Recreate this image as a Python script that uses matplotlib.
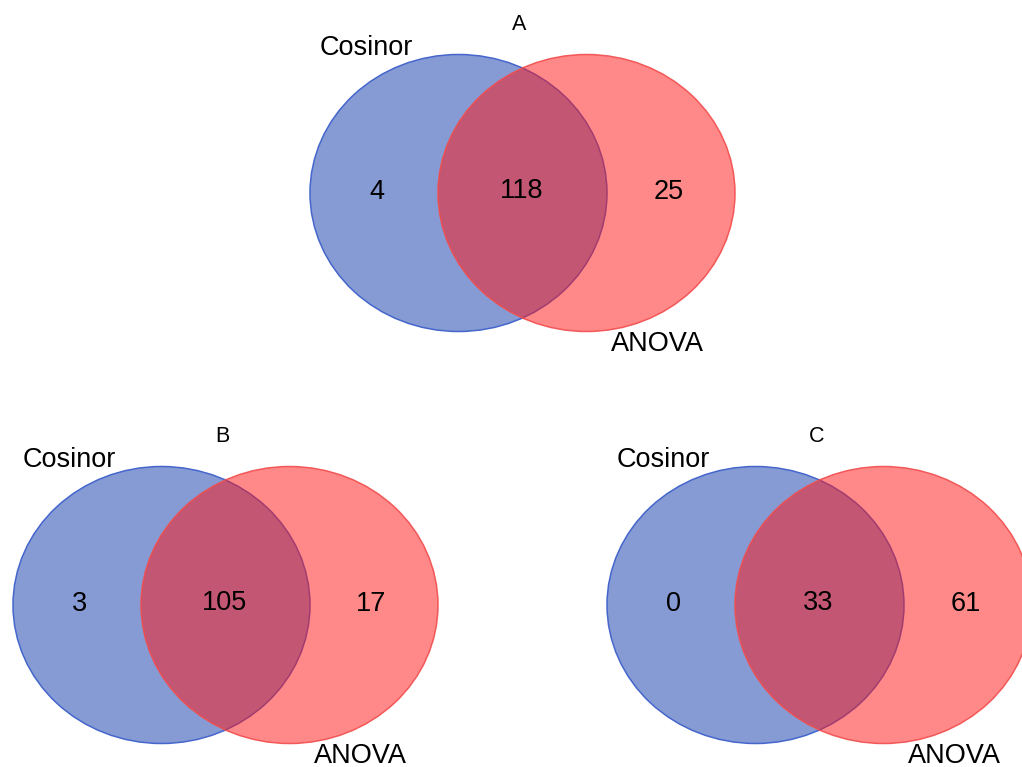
import matplotlib.pyplot as plt
from matplotlib.patches import Ellipse

plt.rcParams['font.family'] = ['Liberation Sans', 'DejaVu Sans']

panels = ["A", "B", "C"]
set_names = ["Cosinor", "ANOVA"]
only_cosinor = [4, 3, 0]
both = [118, 105, 33]
only_anova = [25, 17, 61]

# panel layout in pixel units: centre of the Cosinor ellipse
centres = [(458.5, 193), (161.5, 605), (755.5, 605)]
W, H = 297, 277
SHIFT = 128  # horizontal offset of the ANOVA ellipse

blue = (15/255, 55/255, 170/255)
red = (1.0, 20/255, 20/255)

fig = plt.figure(figsize=(10.22, 7.67), dpi=100)
ax = fig.add_axes([0, 0, 1, 1])
ax.set_xlim(0, 1022)
ax.set_ylim(767, 0)
ax.axis('off')

for i, (cx, cy) in enumerate(centres):
    e1 = Ellipse((cx, cy), W, H, facecolor=blue + (0.5,),
                 edgecolor=(0.27, 0.4, 0.8, 1.0), lw=1.1, zorder=1)
    e2 = Ellipse((cx + SHIFT, cy), W, H, facecolor=red + (0.5,),
                 edgecolor=(0.95, 0.3, 0.3, 0.9), lw=1.1, zorder=2)
    ax.add_patch(e1)
    ax.add_patch(e2)

    ax.text(cx + 61, cy - 168, panels[i], fontsize=15.5, ha='center', va='center')
    ax.text(cx - 92, cy - 145, set_names[0], fontsize=19.5, ha='center', va='center')
    ax.text(cx + 199, cy + 151, set_names[1], fontsize=19.5, ha='center', va='center')

    ax.text(cx - 82, cy - 1, str(only_cosinor[i]), fontsize=19.5, ha='center', va='center')
    ax.text(cx + 63, cy - 2, str(both[i]), fontsize=19.5, ha='center', va='center')
    ax.text(cx + 210, cy - 1, str(only_anova[i]), fontsize=19.5, ha='center', va='center')

fig.savefig("out.png", dpi=100)
